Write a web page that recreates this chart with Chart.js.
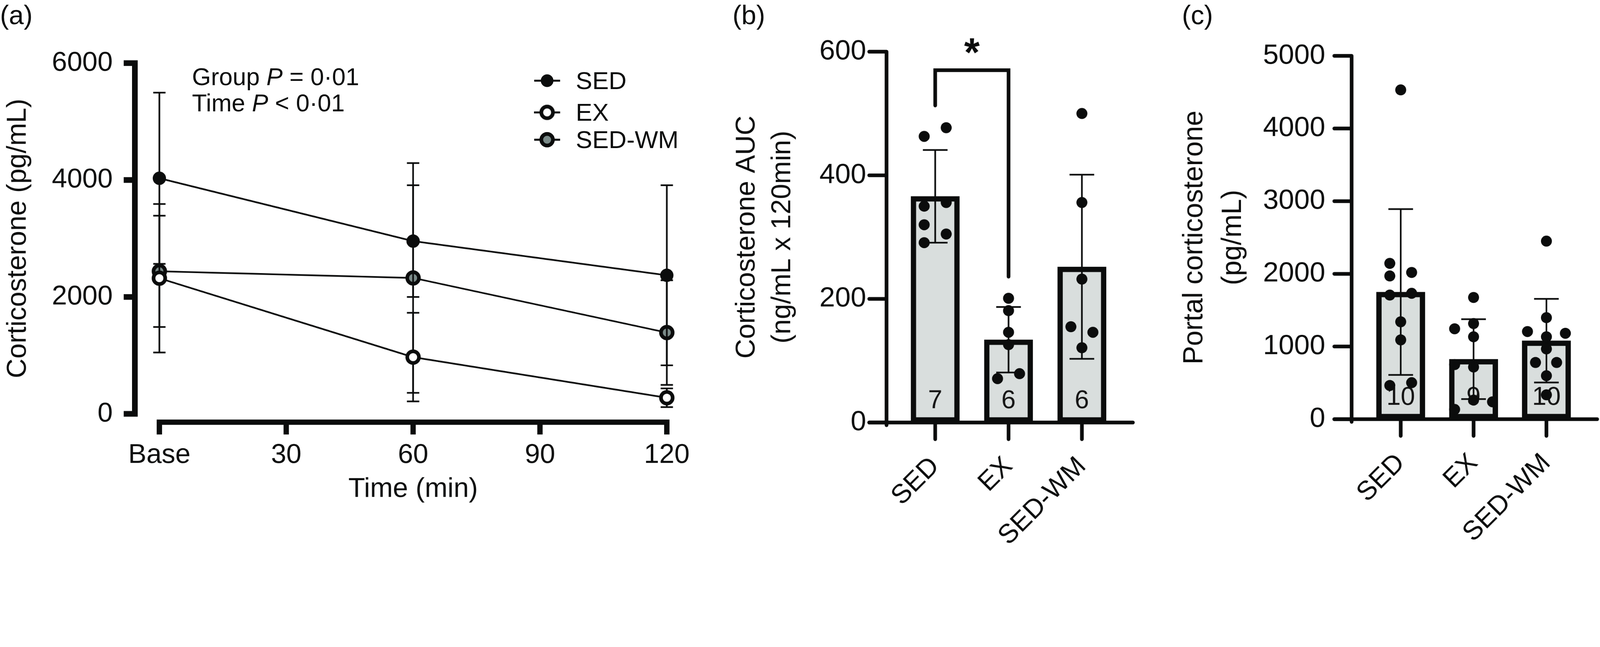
<!DOCTYPE html>
<html>
<head>
<meta charset="utf-8">
<title>Corticosterone</title>
<script src="https://cdn.jsdelivr.net/npm/chart.js@4.4.1/dist/chart.umd.min.js"></script>
<style>
  html, body { margin: 0; padding: 0; background: #fff; overflow: hidden; }
  #page { position: absolute; left: 0; top: 0; width: 4799px; height: 1656px; overflow: hidden;
          transform-origin: 0 0; background: #fff;
          font-family: "Liberation Sans", Arial, sans-serif; color: #0b0c0c; }
  canvas { position: absolute; left: 0; top: 0; }
  .txt { position: absolute; white-space: nowrap; line-height: 1; }
  .panel { font-size: 80px; top: 6px; }
  .note { font-size: 73px; left: 576px; }
  .leg { position: absolute; left: 1602px; width: 700px; height: 52px; }
  .leg svg { position: absolute; left: 0; top: 0; }
  .leg span { position: absolute; left: 125px; top: 0; font-size: 74px; line-height: 52px; white-space: nowrap; }
</style>
</head>
<body>
<div id="page">
<canvas id="chartA" width="4799" height="1656"></canvas>
<canvas id="chartB" width="4799" height="1656"></canvas>
<canvas id="chartC" width="4799" height="1656"></canvas>

<div class="txt panel" style="left:0px">(a)</div>
<div class="txt panel" style="left:2197px">(b)</div>
<div class="txt panel" style="left:3545px">(c)</div>

<div class="txt note" style="top:194px">Group <i>P</i> = 0·01</div>
<div class="txt note" style="top:272px">Time <i>P</i> &lt; 0·01</div>

<div class="leg" style="top:216px">
  <svg width="80" height="52"><line x1="0" y1="26" x2="78" y2="26" stroke="#0b0c0c" stroke-width="6"/><circle cx="39" cy="26" r="19" fill="#0b0c0c"/></svg>
  <span>SED</span>
</div>
<div class="leg" style="top:311px">
  <svg width="80" height="52"><line x1="0" y1="26" x2="78" y2="26" stroke="#0b0c0c" stroke-width="6"/><circle cx="39" cy="26" r="17.5" fill="#ffffff" stroke="#0b0c0c" stroke-width="11"/></svg>
  <span>EX</span>
</div>
<div class="leg" style="top:393px">
  <svg width="80" height="52"><line x1="0" y1="26" x2="78" y2="26" stroke="#0b0c0c" stroke-width="6"/><circle cx="39" cy="26" r="17.5" fill="#7a8a88" stroke="#0b0c0c" stroke-width="11"/></svg>
  <span>SED-WM</span>
</div>
</div>

<script>
// fit the 4799x1656 page into whatever the viewport is
const page = document.getElementById('page');
const fit = Math.min(window.innerWidth / 4799, window.innerHeight / 1656);
page.style.transform = 'scale(' + fit + ')';

// ---- (a) corticosterone over time
const timePoints = [0, 60, 120];
const timeTickLabels = ['Base', '30', '60', '90', '120'];
const sedMean = [4030, 2955, 2370];
const sedSd = [1465, 955, 1540];
const exMean = [2320, 970, 275];
const exSd = [1270, 758, 160];
const wmMean = [2438, 2325, 1390];
const wmSd = [952, 1965, 895];

// ---- (b) corticosterone AUC
const groups = ['SED', 'EX', 'SED-WM'];
const aucMean = [366, 134, 252];
const aucSd = [75, 53, 149];
const aucSed = [463, 477, 350, 356, 320, 305, 291];
const aucSedJit = [-0.15, 0.15, -0.15, 0.15, -0.15, 0.15, -0.15];
const aucEx = [201, 181, 146, 126, 71, 79];
const aucExJit = [0, 0, 0, 0, -0.15, 0.15];
const aucWm = [500, 356, 232, 155, 146, 121];
const aucWmJit = [0, 0, 0, -0.15, 0.15, 0];
const bracketX = [0, 0, 1, 1];
const bracketY = [513, 570, 570, 236];

// ---- (c) portal corticosterone
const portalMean = [1750, 826, 1080];
const portalSd = [1141, 550, 575];
const portalSed = [4531, 2144, 1971, 2019, 1708, 1732, 1340, 1091, 464, 502];
const portalSedJit = [0, -0.15, -0.15, 0.15, -0.15, 0.15, 0, 0, -0.15, 0.15];
const portalEx = [1675, 1244, 1316, 1134, 751, 718, 263, 239, 134];
const portalExJit = [0, -0.26, 0, 0, -0.26, 0, 0, 0.26, -0.26];
const portalWm = [2450, 1397, 1206, 1182, 1134, 967, 780, 780, 598, 335];
const portalWmJit = [0, 0, -0.26, 0.26, 0, 0, -0.15, 0.14, 0, 0];

const INK = '#0b0c0c';
const FONT = '"Liberation Sans", Arial, sans-serif';
Chart.defaults.font.family = FONT;
Chart.defaults.color = INK;

// axis lines drawn GraphPad style (offset from the plot area)
const gpAxes = {
  id: 'gpAxes',
  afterDatasetsDraw(chart, args, o) {
    const { ctx } = chart;
    const x = chart.scales.x, y = chart.scales.y;
    const yTop = y.getPixelForValue(y.max);
    const yBot = y.getPixelForValue(y.min);
    const axX = x.left + o.yAxisShift;
    const axY = yBot + o.xAxisShift;
    ctx.save();
    ctx.strokeStyle = INK;
    ctx.lineCap = o.cap;
    ctx.lineWidth = o.yWidth;
    ctx.beginPath();
    ctx.moveTo(axX, yTop - o.yExtTop);
    ctx.lineTo(axX, yBot + o.yExtBottom);
    y.ticks.forEach((t, i) => {
      const py = y.getPixelForTick(i);
      ctx.moveTo(axX - o.yTickLen, py);
      ctx.lineTo(axX, py);
    });
    ctx.stroke();
    ctx.lineWidth = o.xWidth;
    ctx.beginPath();
    ctx.moveTo(x.left + o.xFrom, axY);
    ctx.lineTo(x.right + o.xTo, axY);
    x.ticks.forEach((t, i) => {
      const px = x.getPixelForTick(i);
      ctx.moveTo(px, axY);
      ctx.lineTo(px, axY + o.xTickLen);
    });
    ctx.stroke();
    ctx.restore();
  }
};

// n inside the bars and the significance star
const barNotes = {
  id: 'barNotes',
  afterDatasetDraw(chart, args, o) {
    if (args.index !== 0) return;
    const { ctx } = chart;
    const x = chart.scales.x, y = chart.scales.y;
    ctx.save();
    ctx.fillStyle = '#151515';
    ctx.font = '77px ' + FONT;
    ctx.textAlign = 'center';
    ctx.textBaseline = 'middle';
    o.counts.forEach((n, i) => {
      ctx.fillText(String(n), x.getPixelForValue(i), y.getPixelForValue(0) - 64);
    });
    ctx.restore();
  },
  afterDraw(chart, args, o) {
    if (!o.star) return;
    const { ctx } = chart;
    const xs = chart.scales.xs, y = chart.scales.y;
    const cx = xs.getPixelForValue((o.star.from + o.star.to) / 2);
    const cy = y.getPixelForValue(o.star.level) - 73;
    ctx.save();
    ctx.fillStyle = INK;
    ctx.font = 'bold 120px ' + FONT;
    ctx.textAlign = 'center';
    ctx.textBaseline = 'alphabetic';
    const m = ctx.measureText(o.star.text);
    ctx.fillText(o.star.text, cx, cy + (m.actualBoundingBoxAscent - m.actualBoundingBoxDescent) / 2);
    ctx.restore();
  }
};

function errorPoints(xv, mean, sd) {
  const pts = [];
  xv.forEach((x, i) => {
    pts.push({ x: x, y: mean[i] - sd[i] }, { x: x, y: mean[i] + sd[i] }, { x: x, y: null });
  });
  return pts;
}

function errorSet(xv, mean, sd, capR, axis, order) {
  return {
    type: 'line', xAxisID: axis, data: errorPoints(xv, mean, sd),
    borderColor: INK, borderWidth: 5, spanGaps: false, tension: 0,
    pointStyle: 'line', pointRadius: capR, pointBorderWidth: 5, pointBorderColor: INK,
    clip: false, order: order
  };
}

function dotSet(values, jitter, idx) {
  return values.map((v, k) => ({ x: idx + jitter[k], y: v }));
}

function seriesSet(label, mean, fill, ring, order) {
  return {
    type: 'line', label: label, xAxisID: 'x',
    data: timePoints.map((t, i) => ({ x: t, y: mean[i] })),
    borderColor: INK, borderWidth: 5, tension: 0,
    pointRadius: 17.5, pointBorderWidth: ring,
    pointBackgroundColor: fill, pointBorderColor: INK,
    clip: false, order: order
  };
}

const common = {
  responsive: false, animation: false, events: [], devicePixelRatio: 1
};

// (a)
new Chart(document.getElementById('chartA'), {
  type: 'line',
  data: {
    datasets: [
      seriesSet('SED', sedMean, INK, 5, 1),
      errorSet(timePoints, sedMean, sedSd, 18.5, 'x', 2),
      seriesSet('EX', exMean, '#ffffff', 11, 3),
      errorSet(timePoints, exMean, exSd, 18.5, 'x', 4),
      seriesSet('SED-WM', wmMean, '#7a8a88', 11, 5),
      errorSet(timePoints, wmMean, wmSd, 18.5, 'x', 6)
    ]
  },
  options: Object.assign({}, common, {
    layout: { autoPadding: false, padding: { left: 0, right: 4799 - 2000, top: 186, bottom: 0 } },
    scales: {
      x: {
        type: 'linear', min: 0, max: 120, offset: false,
        afterFit: s => { s.height = 415; },
        grid: { display: false, drawTicks: false }, border: { display: false },
        ticks: { stepSize: 30, padding: 75, font: { size: 82 }, maxRotation: 0, autoSkip: false,
                 callback: (v, i) => timeTickLabels[i] },
        title: { display: true, text: 'Time (min)', font: { size: 82 }, padding: { top: 0, bottom: 139 } }
      },
      y: {
        min: 0, max: 6000,
        afterFit: s => { s.width = 478; },
        grid: { display: false, drawTicks: false }, border: { display: false },
        ticks: { stepSize: 2000, padding: 140, font: { size: 82 }, callback: v => String(v) },
        title: { display: true, text: 'Corticosterone (pg/mL)', font: { size: 82 }, padding: { top: 5, bottom: 0 } }
      }
    },
    plugins: {
      legend: { display: false }, tooltip: { enabled: false },
      gpAxes: { cap: 'butt', yAxisShift: -73.5, yExtTop: 8.5, yExtBottom: 8.5, yTickLen: 33.5, yWidth: 17,
                xAxisShift: 25, xFrom: -8, xTo: 8, xTickLen: 37, xWidth: 16 }
    }
  }),
  plugins: [gpAxes]
});

function barChart(id, cfg) {
  return new Chart(document.getElementById(id), {
    type: 'bar',
    data: {
      labels: groups,
      datasets: [
        {
          type: 'bar', xAxisID: 'x', data: cfg.mean, grouped: false, barThickness: 146,
          backgroundColor: '#d9dedd', borderColor: INK, borderWidth: 16, borderSkipped: false,
          order: 4
        },
        errorSet([0, 1, 2], cfg.mean, cfg.sd, 37, 'xs', 3),
        {
          type: 'scatter', xAxisID: 'xs', data: cfg.dots,
          pointRadius: 16.5, pointBackgroundColor: INK, pointBorderWidth: 0, showLine: false,
          clip: false, order: 2
        }
      ].concat(cfg.extra || [])
    },
    options: Object.assign({}, common, {
      layout: { autoPadding: false, padding: { left: cfg.padLeft, right: 4799 - cfg.right, top: cfg.top, bottom: 0 } },
      scales: {
        x: {
          type: 'category', offset: true,
          afterFit: s => { s.height = 1656 - cfg.bottom; },
          grid: { display: false, drawTicks: false }, border: { display: false },
          ticks: { padding: 85, font: { size: 80 }, minRotation: 45, maxRotation: 45, autoSkip: false }
        },
        xs: { type: 'linear', display: false, offset: false, grid: { offset: false }, min: -0.5, max: 2.5 },
        y: {
          min: 0, max: cfg.max,
          afterFit: s => { s.width = cfg.left - cfg.padLeft; },
          grid: { display: false, drawTicks: false }, border: { display: false },
          ticks: { stepSize: cfg.step, padding: cfg.tickPad, font: { size: 84 }, callback: v => String(v) },
          title: { display: true, text: cfg.title, font: { size: cfg.titleSize, lineHeight: cfg.titleLh },
                   padding: { top: cfg.titlePad, bottom: 0 } }
        }
      },
      plugins: {
        legend: { display: false }, tooltip: { enabled: false },
        gpAxes: { cap: 'round', yAxisShift: cfg.yShift, yExtTop: 0, yExtBottom: 8, yTickLen: 52, yWidth: 11,
                  xAxisShift: 0, xFrom: cfg.yShift - 52, xTo: 43, xTickLen: 50, xWidth: 11 },
        barNotes: { counts: cfg.counts, star: cfg.star || null }
      }
    }),
    plugins: [barNotes, gpAxes]
  });
}

// (b)
barChart('chartB', {
  mean: aucMean, sd: aucSd,
  dots: dotSet(aucSed, aucSedJit, 0).concat(dotSet(aucEx, aucExJit, 1), dotSet(aucWm, aucWmJit, 2)),
  counts: [aucSed.length, aucEx.length, aucWm.length],
  extra: [{
    type: 'line', xAxisID: 'xs', data: bracketX.map((x, i) => ({ x: x, y: bracketY[i] })),
    borderColor: INK, borderWidth: 11, borderJoinStyle: 'miter', borderCapStyle: 'round',
    pointRadius: 0, tension: 0, clip: false, order: 1
  }],
  star: { text: '*', from: 0, to: 1, level: 570 },
  padLeft: 2150, left: 2695, right: 3355, top: 155, bottom: 1267,
  max: 600, step: 200, tickPad: 97, yShift: -36,
  title: ['Corticosterone AUC', '(ng/mL x 120min)'], titleSize: 82, titleLh: 1.3, titlePad: 37
});

// (c)
barChart('chartC', {
  mean: portalMean, sd: portalSd,
  dots: dotSet(portalSed, portalSedJit, 0).concat(dotSet(portalEx, portalExJit, 1), dotSet(portalWm, portalWmJit, 2)),
  counts: [portalSed.length, portalEx.length, portalWm.length],
  padLeft: 3450, left: 4092, right: 4752, top: 153, bottom: 1257,
  max: 5000, step: 1000, tickPad: 117, yShift: -38,
  title: ['Portal corticosterone', '(pg/mL)'], titleSize: 83, titleLh: 1.4, titlePad: 75
});
</script>
</body>
</html>
